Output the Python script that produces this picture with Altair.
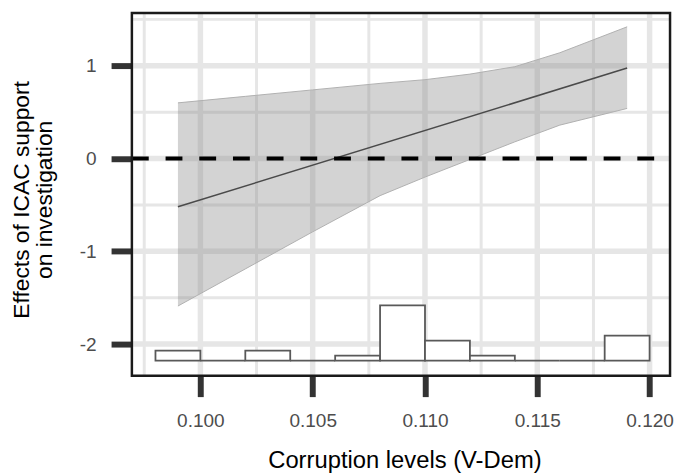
import altair as alt
import pandas as pd

# ---- data ----
band_x = [0.099, 0.102, 0.105, 0.108, 0.110, 0.112, 0.114, 0.116, 0.119]
band_upper = [0.60, 0.67, 0.74, 0.81, 0.85, 0.91, 0.99, 1.14, 1.42]
band_lower = [-1.59, -1.19, -0.79, -0.40, -0.20, -0.01, 0.18, 0.36, 0.54]

effect_x = [0.099, 0.119]
effect_y = [-0.52, 0.975]

bin_start = [0.098, 0.100, 0.102, 0.104, 0.106, 0.108, 0.110, 0.112, 0.114, 0.116, 0.118]
bin_end = [0.100, 0.102, 0.104, 0.106, 0.108, 0.110, 0.112, 0.114, 0.116, 0.118, 0.120]
bin_count = [2, 0, 2, 0, 1, 11, 4, 1, 0, 0, 5]
hist_base = -2.178
hist_unit = 0.054

x_ticks = [0.100, 0.105, 0.110, 0.115, 0.120]
x_minor = [0.0975, 0.1025, 0.1075, 0.1125, 0.1175]
y_ticks = [-2, -1, 0, 1]
y_minor = [-1.5, -0.5, 0.5, 1.5]

x_domain = [0.09695, 0.12091]
y_domain = [-2.342, 1.568]

W, H = 543, 366
FONT = "Liberation Sans"
GRID = "#e6e6e6"

xscale = alt.Scale(domain=x_domain, nice=False, zero=False)
yscale = alt.Scale(domain=y_domain, nice=False, zero=False)

xaxis = alt.Axis(
    values=x_ticks, format=".3f", title="Corruption levels (V-Dem)",
    grid=False, domain=False, tickSize=21, tickWidth=6, tickColor="#333333",
    labelFontSize=19.2, labelColor="#4d4d4d", labelPadding=15, labelFlush=False,
    labelFont=FONT, titleFont=FONT, titleFontSize=24, titleFontWeight="normal",
    titleColor="#000000", titleX=275, titleY=93, titleBaseline="alphabetic",
    titleAlign="center", titleAnchor="middle",
)
yaxis = alt.Axis(
    values=y_ticks, labelExpr="datum.value + ''",
    title=["Effects of ICAC support", "on investigation"],
    grid=False, domain=False, tickSize=21, tickWidth=6, tickColor="#333333",
    labelFontSize=19.2, labelColor="#4d4d4d", labelPadding=15,
    labelFont=FONT, titleFont=FONT, titleFontSize=23, titleFontWeight="normal",
    titleColor="#000000", titleAngle=270, titleX=-104, titleY=188,
    titleBaseline="alphabetic", titleAlign="center", titleLineHeight=22.5,
)


def X(field):
    return alt.X(field, type="quantitative", scale=xscale, axis=xaxis)


def Y(field):
    return alt.Y(field, type="quantitative", scale=yscale, axis=yaxis)


minor_x = alt.Chart(pd.DataFrame({"v": x_minor})).mark_rule(color=GRID, strokeWidth=3).encode(x=X("v"))
major_x = alt.Chart(pd.DataFrame({"v": x_ticks})).mark_rule(color=GRID, strokeWidth=5.5).encode(x=X("v"))
minor_y = alt.Chart(pd.DataFrame({"v": y_minor})).mark_rule(color=GRID, strokeWidth=3).encode(y=Y("v"))
major_y = alt.Chart(pd.DataFrame({"v": y_ticks})).mark_rule(color=GRID, strokeWidth=5.5).encode(y=Y("v"))

band_df = pd.DataFrame({"x": band_x, "lo": band_lower, "hi": band_upper})
band = alt.Chart(band_df).mark_area(color="#808080", opacity=0.35).encode(
    x=X("x"), y=Y("lo"), y2="hi"
)
edge_df = pd.DataFrame({
    "x": band_x + band_x,
    "v": band_upper + band_lower,
    "b": ["hi"] * len(band_x) + ["lo"] * len(band_x),
})
edges = alt.Chart(edge_df).mark_line(color="#b0b0b0", strokeWidth=1).encode(
    x=X("x"), y=Y("v"), detail="b:N"
)
effect = alt.Chart(pd.DataFrame({"x": effect_x, "y": effect_y})).mark_line(
    color="#4a4a4a", strokeWidth=1.5
).encode(x=X("x"), y=Y("y"))

zero_line = alt.Chart(pd.DataFrame({"v": [0]})).mark_rule(
    color="#000000", strokeWidth=4, strokeDash=[17, 17]
).encode(y=Y("v"), x=alt.value(0), x2=alt.value(W))

hist_df = pd.DataFrame({"s": bin_start, "e": bin_end, "n": bin_count})
hist = alt.Chart(hist_df).transform_calculate(
    lo=f"{hist_base}", hi=f"{hist_base} + datum.n * {hist_unit}"
).mark_rect(fill="white", stroke="#595959", strokeWidth=1.8).encode(
    x=X("s"), x2="e", y=Y("lo"), y2="hi"
)

border = alt.Chart(pd.DataFrame({"v": [0]})).mark_rect(
    fill="transparent", stroke="#1a1a1a", strokeWidth=2.5
).encode(x=alt.value(0), x2=alt.value(W), y=alt.value(0), y2=alt.value(H))

chart = alt.layer(
    minor_x, minor_y, major_x, major_y, band, edges, effect, zero_line, hist, border
).properties(
    width=W, height=H,
    autosize=alt.AutoSizeParams(type="none"),
    padding={"left": 125, "top": 3, "right": 4, "bottom": 100},
).configure_view(
    stroke=None, fill="white"
).configure(background="white")

chart.save("out.html", embed_options={"renderer": "svg", "actions": False})
